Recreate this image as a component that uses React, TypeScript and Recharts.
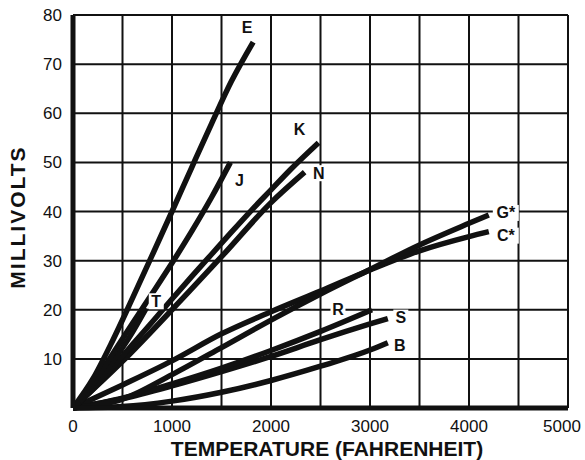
import React from 'react';
import { LineChart, Line, XAxis, YAxis, CartesianGrid, LabelList } from 'recharts';

// temperature (F) and output (mV) for each thermocouple type
const E_T = [0, 200, 400, 600, 800, 1000, 1200, 1400, 1600, 1820];
const E_MV = [0, 5.9, 13.7, 22.3, 31.1, 40.0, 49.0, 57.9, 66.5, 74.5];

const J_T = [0, 200, 400, 600, 800, 1000, 1200, 1400, 1590];
const J_MV = [0, 4.9, 11.0, 17.2, 23.3, 29.5, 36.0, 42.9, 50.0];

const T_T = [0, 200, 400, 600, 740];
const T_MV = [0, 4.2, 9.4, 15.4, 20.3];

const K_T = [0, 200, 400, 600, 800, 1000, 1200, 1400, 1600, 1800, 2000, 2200, 2480];
const K_MV = [0, 3.8, 8.3, 12.9, 17.5, 22.2, 26.8, 31.3, 35.8, 40.2, 44.4, 48.6, 54.0];

const N_T = [0, 500, 1000, 1500, 2000, 2340];
const N_MV = [0, 9.5, 20.0, 30.8, 41.8, 48.0];

const G_T = [0, 500, 1000, 1500, 2000, 2500, 3000, 3500, 4000, 4200];
const G_MV = [0, 1.8, 6.8, 12.3, 17.9, 23.2, 28.2, 33.2, 37.6, 39.3];

const C_T = [0, 500, 1000, 1500, 2000, 2500, 3000, 3500, 4000, 4200];
const C_MV = [0, 4.7, 9.6, 15.1, 19.6, 23.8, 28.1, 32.0, 34.9, 35.9];

const R_T = [0, 500, 1000, 1500, 2000, 2500, 3020];
const R_MV = [0, 2.0, 4.9, 8.1, 11.7, 15.6, 20.0];

const S_T = [0, 500, 1000, 1500, 2000, 2500, 3000, 3180];
const S_MV = [0, 1.9, 4.5, 7.4, 10.5, 13.9, 17.1, 18.2];

const B_T = [0, 500, 1000, 1500, 2000, 2500, 3000, 3180];
const B_MV = [0, 0.3, 1.4, 3.2, 5.6, 8.5, 11.8, 13.3];

const X_TICKS = [0, 500, 1000, 1500, 2000, 2500, 3000, 3500, 4000, 4500, 5000];
const Y_TICKS = [0, 10, 20, 30, 40, 50, 60, 70, 80];

const FONT = '"Liberation Sans", Arial, Helvetica, sans-serif';

const build = (t: number[], mv: number[], label: string) =>
  t.map((v, i) => ({ t: v, mv: mv[i], lab: i === t.length - 1 ? label : undefined }));

const SERIES = [
  { key: 'B', data: build(B_T, B_MV, 'B'), dx: 12, dy: 3 },
  { key: 'S', data: build(S_T, S_MV, 'S'), dx: 13, dy: -1 },
  { key: 'R', data: build(R_T, R_MV, 'R'), dx: -34, dy: 0 },
  { key: 'C', data: build(C_T, C_MV, 'C*'), dx: 17, dy: 4 },
  { key: 'G', data: build(G_T, G_MV, 'G*'), dx: 17, dy: -2 },
  { key: 'N', data: build(N_T, N_MV, 'N'), dx: 14, dy: 1 },
  { key: 'K', data: build(K_T, K_MV, 'K'), dx: -19, dy: -13 },
  { key: 'T', data: build(T_T, T_MV, 'T'), dx: 10, dy: -7 },
  { key: 'J', data: build(J_T, J_MV, 'J'), dx: 9, dy: 18 },
  { key: 'E', data: build(E_T, E_MV, 'E'), dx: -6, dy: -15 },
];

const endLabel = (dx: number, dy: number) => (props: any) => {
  const { x, y, value } = props;
  if (!value) return null;
  const w = String(value).length * 11 + 4;
  return (
    <g>
      <rect x={x + dx - w / 2} y={y + dy - 8} width={w} height={16} fill="#fff" />
      <text
        x={x + dx}
        y={y + dy}
        textAnchor="middle"
        dominantBaseline="central"
        fontFamily={FONT}
        fontWeight="bold"
        fontSize={16}
        fill="#111"
      >
        {value}
      </text>
    </g>
  );
};

const XTick = (props: any) => {
  const { x, y, payload } = props;
  if (payload.value % 1000 !== 0) return null;
  const shift = payload.value === 5000 ? -6 : 0;
  return (
    <text x={x + shift} y={y} dy="0.71em" textAnchor="middle" fontFamily={FONT} fontSize={17} fill="#111">
      {payload.value}
    </text>
  );
};

export default function App() {
  return (
    <div style={{ position: 'absolute', left: 0, top: 0, width: 585, height: 460, background: '#fff' }}>
      <LineChart width={585} height={460} margin={{ top: 15, right: 17, bottom: 22, left: 13 }}>
        <CartesianGrid stroke="#111" strokeWidth={2} />
        <XAxis
          type="number"
          dataKey="t"
          domain={[0, 5000]}
          ticks={X_TICKS}
          interval={0}
          height={30}
          tickLine={false}
          tickSize={0}
          tickMargin={12}
          axisLine={{ stroke: '#111', strokeWidth: 5 }}
          tick={<XTick />}
        />
        <YAxis
          type="number"
          domain={[0, 80]}
          ticks={Y_TICKS}
          interval={0}
          width={60}
          tickLine={false}
          tickSize={0}
          tickMargin={11}
          axisLine={{ stroke: '#111', strokeWidth: 5 }}
          tickFormatter={(v: number) => (v === 0 ? '' : String(v))}
          tick={{ fill: '#111', fontSize: 17, fontFamily: FONT }}
        />
        {SERIES.map((s) => (
          <Line
            key={s.key}
            data={s.data}
            dataKey="mv"
            type="monotone"
            stroke="#111"
            strokeWidth={5.5}
            dot={false}
            activeDot={false}
            isAnimationActive={false}
          >
            <LabelList dataKey="lab" content={endLabel(s.dx, s.dy)} />
          </Line>
        ))}
      </LineChart>
      <div
        style={{
          position: 'absolute',
          left: 0,
          top: 440,
          width: 654,
          textAlign: 'center',
          fontFamily: FONT,
          fontWeight: 'bold',
          fontSize: 21,
          color: '#111',
          lineHeight: '17px',
        }}
      >
        TEMPERATURE (FAHRENHEIT)
      </div>
      <div
        style={{
          position: 'absolute',
          left: 17,
          top: 217,
          transform: 'translate(-50%, -50%) rotate(-90deg)',
          fontFamily: FONT,
          fontWeight: 'bold',
          fontSize: 21,
          letterSpacing: 2,
          color: '#111',
          whiteSpace: 'nowrap',
          lineHeight: '21px',
        }}
      >
        MILLIVOLTS
      </div>
    </div>
  );
}
